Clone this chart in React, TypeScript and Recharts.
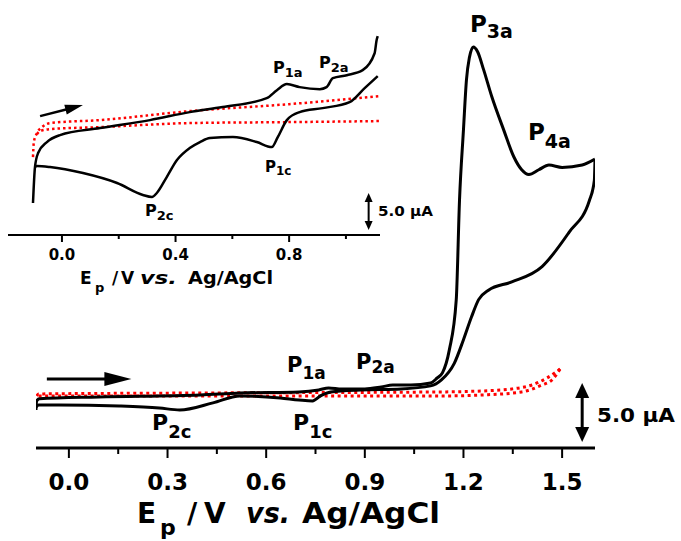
import React from "react";
import { LineChart, Line, XAxis, YAxis, ReferenceLine } from "recharts";

const FONT = '"DejaVu Sans", "Liberation Sans", sans-serif';

// main CV: forward and reverse sweeps (E in V, I in µA, arbitrary zero)
const mainFwdE = [-0.1, -0.098, -0.09, 0.09, 0.4, 0.52, 0.7, 0.76, 0.79, 0.83, 0.9, 0.95, 0.985, 1.04, 1.1, 1.12, 1.136, 1.157, 1.178, 1.188, 1.2, 1.209, 1.218, 1.23, 1.243, 1.261, 1.286, 1.322, 1.353, 1.377, 1.399, 1.429, 1.46, 1.5, 1.561, 1.6];
const mainFwdI = [-0.85, -0.1, 0.1, 0.25, 0.42, 0.59, 0.68, 0.85, 1.02, 0.93, 0.93, 1.1, 1.27, 1.27, 1.44, 1.86, 2.29, 4.24, 8.47, 16.95, 22.9, 27.1, 29.0, 29.9, 29.5, 28.0, 25.7, 22.9, 20.6, 19.5, 19.1, 19.5, 19.9, 19.7, 19.9, 20.4];
const mainRevE = [1.6, 1.598, 1.583, 1.521, 1.439, 1.347, 1.276, 1.246, 1.224, 1.2, 1.172, 1.133, 1.1, 1.01, 0.888, 0.796, 0.765, 0.741, 0.7, 0.643, 0.52, 0.438, 0.337, 0.275, 0.153, -0.031, -0.092, -0.1];
const mainRevI = [20.4, 18.6, 16.9, 14.2, 11.3, 10.0, 9.3, 8.5, 7.0, 5.1, 3.1, 1.7, 1.19, 0.93, 0.85, 0.68, 0.34, -0.08, 0.0, 0.17, 0.34, -0.25, -0.85, -0.68, -0.51, -0.42, -0.42, -0.6];

// blank (red dotted) in main
const blankFwdE = [-0.098, -0.092, 0.4, 1.133, 1.316, 1.347, 1.408, 1.454, 1.494];
const blankFwdI = [0.34, 0.51, 0.59, 0.68, 0.85, 0.93, 1.27, 1.86, 2.63];
const blankRevE = [1.494, 1.469, 1.439, 1.377, 1.255, 1.133, 0.4, -0.092];
const blankRevI = [2.63, 1.69, 1.27, 0.68, 0.42, 0.34, 0.34, 0.34];

// inset CV
const insetFwdE = [-0.102, -0.095, -0.084, -0.053, -0.007, 0.134, 0.31, 0.45, 0.566, 0.721, 0.757, 0.792, 0.837, 0.908, 0.932, 0.954, 1.003, 1.059, 1.101, 1.108, 1.112];
const insetFwdI = [4.32, 9.19, 11.08, 12.57, 13.51, 14.46, 15.54, 16.62, 17.3, 18.51, 19.59, 20.41, 20.0, 19.73, 20.0, 21.22, 21.62, 22.3, 24.59, 26.35, 26.9];
const insetRevE = [1.112, 1.066, 1.013, 0.918, 0.837, 0.792, 0.76, 0.739, 0.686, 0.602, 0.521, 0.486, 0.45, 0.405, 0.369, 0.334, 0.317, 0.285, 0.194, 0.074, -0.042, -0.088, -0.095];
const insetRevI = [21.49, 19.86, 17.97, 17.16, 16.62, 15.54, 13.24, 11.89, 12.57, 13.24, 13.11, 12.57, 11.76, 10.14, 7.84, 5.68, 5.14, 5.41, 7.03, 8.38, 9.19, 9.32, 9.19];

const insetBlankFwdE = [-0.102, -0.099, -0.088, -0.07, -0.042, 0.134, 0.45, 0.8, 1.119];
const insetBlankFwdI = [10.54, 12.57, 13.78, 14.6, 15.14, 15.54, 16.76, 17.7, 18.78];
const insetBlankRevE = [1.119, 0.8, 0.45, 0.134, -0.042, -0.077, -0.088];
const insetBlankRevI = [15.41, 15.27, 15.14, 14.59, 14.32, 14.05, 13.65];

const mainTicks = [0, 0.15, 0.3, 0.45, 0.6, 0.75, 0.9, 1.05, 1.2, 1.35, 1.5];
const mainMajor = [0, 0.3, 0.6, 0.9, 1.2, 1.5];
const insetTicks = [0, 0.2, 0.4, 0.6, 0.8, 1.0];
const insetMajor = [0, 0.4, 0.8];

// each sweep drawn left-to-right so the monotone curve can smooth it
const sweep = (es: number[], is: number[]) => {
  const pts = es.map((e, k) => ({ e, i: is[k] }));
  return pts[0].e > pts[pts.length - 1].e ? pts.reverse() : pts;
};

const mainFwd = sweep(mainFwdE, mainFwdI);
const mainRev = sweep(mainRevE, mainRevI);
const blankFwd = sweep(blankFwdE, blankFwdI);
const blankRev = sweep(blankRevE, blankRevI);
const insetFwd = sweep(insetFwdE, insetFwdI);
const insetRev = sweep(insetRevE, insetRevI);
const insetBlankFwd = sweep(insetBlankFwdE, insetBlankFwdI);
const insetBlankRev = sweep(insetBlankRevE, insetBlankRevI);

const makeTick = (majors: number[], majLen: number, minLen: number, fs: number, dy: number) => (props: any) => {
  const { x, y, payload } = props;
  const major = majors.some((m) => Math.abs(m - payload.value) < 1e-6);
  return (
    <g>
      <line x1={x} x2={x} y1={y} y2={y + (major ? majLen : minLen)} stroke="#000" strokeWidth={2} />
      {major && (
        <text x={x} y={y + dy} textAnchor="middle" fontSize={fs} fontWeight="bold" fontFamily={FONT} fill="#000">
          {payload.value.toFixed(1)}
        </text>
      )}
    </g>
  );
};

const arrowShape = (head: number, half: number, w: number, both: boolean) => (p: any) => {
  const { x1, y1, x2, y2 } = p;
  if (x1 == null || y1 == null) return <g />;
  const dx = x2 - x1, dy = y2 - y1;
  const len = Math.hypot(dx, dy) || 1;
  const ux = dx / len, uy = dy / len;
  const tri = (tx: number, ty: number, sx: number, sy: number) => {
    const bx = tx - sx * head, by = ty - sy * head;
    return `${tx},${ty} ${bx - sy * half},${by + sx * half} ${bx + sy * half},${by - sx * half}`;
  };
  const sx = both ? x1 + ux * head * 0.8 : x1;
  const sy = both ? y1 + uy * head * 0.8 : y1;
  return (
    <g>
      <line x1={sx} y1={sy} x2={x2 - ux * head * 0.8} y2={y2 - uy * head * 0.8} stroke="#000" strokeWidth={w} />
      <polygon points={tri(x2, y2, ux, uy)} fill="#000" />
      {both && <polygon points={tri(x1, y1, -ux, -uy)} fill="#000" />}
    </g>
  );
};

const PLabel = ({ x, y, sub, size, subSize, subDy }: any) => (
  <text x={x} y={y} fontSize={size} fontWeight="bold" fontFamily={FONT} fill="#000">
    P
    <tspan fontSize={subSize} dy={subDy}>
      {sub}
    </tspan>
  </text>
);

const AxisTitle = ({ x, y, fs, subFs, subDy, pos, vsLen, agLen }: any) => (
  <g fontFamily={FONT} fontWeight="bold" fill="#000">
    <text x={x} y={y} fontSize={fs}>E</text>
    <text x={pos[0]} y={y + subDy} fontSize={subFs}>p</text>
    <text x={pos[1]} y={y} fontSize={fs}>/</text>
    <text x={pos[2]} y={y} fontSize={fs}>V</text>
    <text x={pos[3]} y={y} fontSize={fs} fontStyle="italic" textLength={vsLen} lengthAdjust="spacingAndGlyphs">vs.</text>
    <text x={pos[4]} y={y} fontSize={fs} textLength={agLen} lengthAdjust="spacingAndGlyphs">Ag/AgCl</text>
  </g>
);

const cv = { dataKey: "i", dot: false, type: "monotone" as const, isAnimationActive: false };

export default function App() {
  return (
    <div style={{ position: "absolute", left: 0, top: 0, width: 681, height: 541, background: "#fff" }}>
      {/* main chart */}
      <div style={{ position: "absolute", left: 0, top: 0 }}>
        <LineChart width={681} height={541} margin={{ top: 34, right: 86, left: 36, bottom: 0 }}>
          <XAxis
            dataKey="e"
            type="number"
            domain={[-0.1, 1.6]}
            allowDataOverflow
            ticks={mainTicks}
            interval={0}
            height={93}
            tickSize={0}
            tickMargin={0}
            tickLine={false}
            axisLine={{ stroke: "#000", strokeWidth: 3 }}
            tick={makeTick(mainMajor, 10, 6, 23, 42)}
          />
          <YAxis hide type="number" domain={[-4.07, 31]} allowDataOverflow />
          <Line {...cv} data={blankFwd} stroke="#ff0000" strokeWidth={3} strokeDasharray="3 3.5" />
          <Line {...cv} data={blankRev} stroke="#ff0000" strokeWidth={3} strokeDasharray="3 3.5" />
          <Line {...cv} data={mainFwd} stroke="#000" strokeWidth={3} />
          <Line {...cv} data={mainRev} stroke="#000" strokeWidth={3} />
          <ReferenceLine segment={[{ x: -0.067, y: 1.78 }, { x: 0.19, y: 1.78 }]} shape={arrowShape(27, 7, 3, false)} />
          <ReferenceLine segment={[{ x: 1.561, y: -3.56 }, { x: 1.561, y: 1.44 }]} shape={arrowShape(15, 7, 3, true)} />
        </LineChart>
      </div>

      {/* inset */}
      <div style={{ position: "absolute", left: 0, top: 0 }}>
        <LineChart width={390} height={300} margin={{ top: 28, right: 10, left: 8, bottom: 0 }}>
          <XAxis
            dataKey="e"
            type="number"
            domain={[-0.19, 1.12]}
            allowDataOverflow
            ticks={insetTicks}
            interval={0}
            height={65}
            tickSize={0}
            tickMargin={0}
            tickLine={false}
            axisLine={{ stroke: "#000", strokeWidth: 2 }}
            tick={makeTick(insetMajor, 7, 4, 15, 25)}
          />
          <YAxis hide type="number" domain={[0, 28]} allowDataOverflow />
          <Line {...cv} data={insetBlankFwd} stroke="#ff0000" strokeWidth={2.5} strokeDasharray="2.5 3" />
          <Line {...cv} data={insetBlankRev} stroke="#ff0000" strokeWidth={2.5} strokeDasharray="2.5 3" />
          <Line {...cv} data={insetFwd} stroke="#000" strokeWidth={2.5} />
          <Line {...cv} data={insetRev} stroke="#000" strokeWidth={2.5} />
          <ReferenceLine segment={[{ x: -0.077, y: 16.08 }, { x: 0.074, y: 17.57 }]} shape={arrowShape(18, 5, 2.5, false)} />
          <ReferenceLine segment={[{ x: 1.08, y: 0.68 }, { x: 1.08, y: 5.68 }]} shape={arrowShape(9, 4, 2, true)} />
        </LineChart>
      </div>

      {/* annotations */}
      <svg width={681} height={541} style={{ position: "absolute", left: 0, top: 0, pointerEvents: "none" }}>
        <PLabel x={470} y={32} sub="3a" size={23} subSize={19} subDy={6} />
        <PLabel x={528} y={140} sub="4a" size={23} subSize={19} subDy={8} />
        <PLabel x={287} y={372} sub="1a" size={21} subSize={17} subDy={7} />
        <PLabel x={356} y={369} sub="2a" size={21} subSize={17} subDy={4} />
        <PLabel x={152} y={430} sub="2c" size={22} subSize={18} subDy={8} />
        <PLabel x={293} y={430} sub="1c" size={22} subSize={18} subDy={8} />

        <PLabel x={273} y={73} sub="1a" size={16} subSize={13} subDy={4} />
        <PLabel x={319} y={68} sub="2a" size={16} subSize={13} subDy={4} />
        <PLabel x={265} y={172} sub="1c" size={15} subSize={12} subDy={3} />
        <PLabel x={145} y={216} sub="2c" size={16} subSize={13} subDy={4} />

        <text x={597} y={422} fontSize={20} fontWeight="bold" fontFamily={FONT} textLength={78} lengthAdjust="spacingAndGlyphs">5.0 µA</text>
        <text x={378} y={216} fontSize={14} fontWeight="bold" fontFamily={FONT} textLength={55} lengthAdjust="spacingAndGlyphs">5.0 µA</text>

        <AxisTitle x={137} y={523} fs={28} subFs={22} subDy={12} pos={[160, 187, 204, 246, 302]} vsLen={44} agLen={138} />
        <AxisTitle x={80} y={284} fs={17} subFs={13} subDy={8} pos={[95, 112, 121, 140, 188]} vsLen={37} agLen={85} />
      </svg>
    </div>
  );
}
